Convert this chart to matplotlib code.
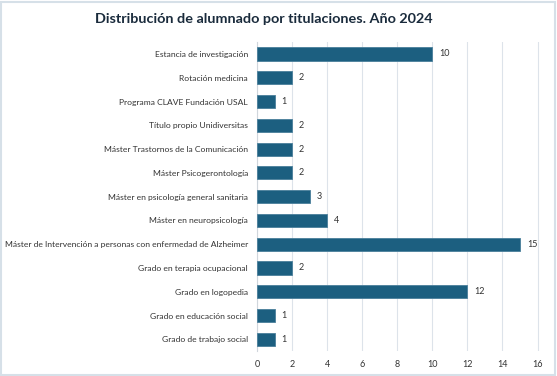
import matplotlib
matplotlib.use('Agg')
import matplotlib.pyplot as plt
from matplotlib.patches import Rectangle
from matplotlib import font_manager

categories = [
    'Estancia de investigación',
    'Rotación medicina',
    'Programa CLAVE Fundación USAL',
    'Título propio Unidiversitas',
    'Máster Trastornos de la Comunicación',
    'Máster Psicogerontología',
    'Máster en psicología general sanitaria',
    'Máster en neuropsicología',
    'Máster de Intervención a personas con enfermedad de Alzheimer',
    'Grado en terapia ocupacional',
    'Grado en logopedia',
    'Grado en educación social',
    'Grado de trabajo social',
]
students = [10, 2, 1, 2, 2, 2, 3, 4, 15, 2, 12, 1, 1]
x_ticks = [0, 2, 4, 6, 8, 10, 12, 14, 16]

print(sorted({f.name for f in font_manager.fontManager.ttflist}))
plt.rcParams['font.family'] = ['Lato', 'DejaVu Sans']

fig = plt.figure(figsize=(5.57, 3.76), dpi=100)
fig.patches.append(Rectangle((0.002, 0.003), 0.995, 0.993, transform=fig.transFigure,
                             fill=False, edgecolor='#d6e0e8', linewidth=1.5))
ax = fig.add_axes([0.4614, 0.066, 0.51, 0.822])

positions = list(range(len(categories)))
ax.barh(positions, students, height=0.55, color='#1c5f80', edgecolor='#4a7f9b', linewidth=0.6, zorder=3)
for pos, value in zip(positions, students):
    ax.text(value + 0.4, pos, str(value), va='center', ha='left', fontsize=6.5, color='#333333')

ax.set_yticks(positions)
ax.set_yticklabels(categories, fontsize=6.1, color='#333333')
ax.set_ylim(len(categories) - 0.5, -0.5)
ax.set_xlim(0, 16.2)
ax.set_xticks(x_ticks)
ax.set_xticklabels([str(t) for t in x_ticks], fontsize=6.5, color='#333333')
ax.tick_params(length=0, pad=6)
ax.tick_params(axis='y', pad=6.5)
ax.grid(axis='x', color='#dde3ea', linewidth=0.8, zorder=0)
for side in ('top', 'right', 'bottom'):
    ax.spines[side].set_visible(False)
ax.spines['left'].set_color('#d0d6dc')
ax.spines['left'].set_linewidth(0.8)

fig.text(0.473, 0.95, 'Distribución de alumnado por titulaciones. Año 2024', ha='center', va='center',
         fontsize=10.4, fontweight='bold', color='#1a2b3c')

fig.savefig('out.png', dpi=100)
